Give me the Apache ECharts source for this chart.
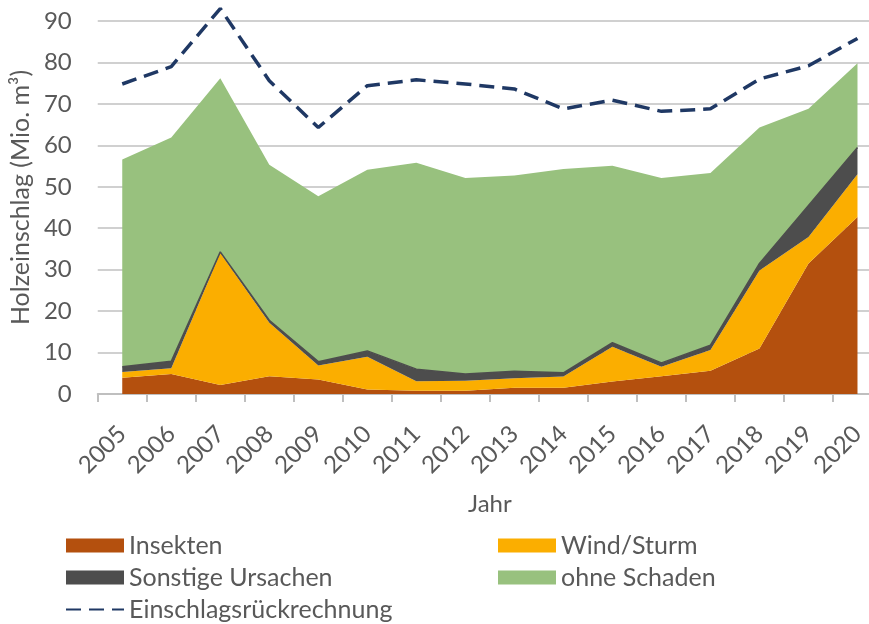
<!DOCTYPE html>
<html>
<head>
<meta charset="utf-8">
<script src="https://cdn.jsdelivr.net/npm/echarts@6/dist/echarts.min.js"></script>
<style>
html,body{margin:0;padding:0;background:#fff;overflow:hidden;width:869px;height:624px;}
#c{width:882px;height:624px;}
</style>
</head>
<body>
<div id="c"></div>
<script>
const years = ['2005','2006','2007','2008','2009','2010','2011','2012','2013','2014','2015','2016','2017','2018','2019','2020'];
const insekten = [3.9, 4.8, 2.2, 4.3, 3.5, 1.1, 0.8, 0.8, 1.5, 1.5, 3.0, 4.3, 5.6, 11.0, 31.5, 42.7];
const windSturm = [1.4, 1.4, 31.8, 12.9, 3.4, 7.9, 2.3, 2.4, 2.3, 2.7, 8.4, 2.3, 5.0, 18.8, 6.4, 10.3];
const sonstige = [1.3, 1.7, 0.3, 0.6, 0.9, 1.4, 2.9, 1.6, 1.7, 0.9, 1.0, 0.9, 1.2, 1.7, 7.6, 6.5];
const ohneSchaden = [50.0, 54.0, 41.9, 37.5, 39.9, 43.7, 49.8, 47.3, 47.2, 49.2, 42.7, 44.6, 41.5, 32.8, 23.3, 20.3];
const rueckrechnung = [74.8, 79.0, 93.0, 75.6, 64.3, 74.4, 75.8, 74.8, 73.6, 68.8, 70.9, 68.2, 68.8, 76.0, 79.2, 85.8];
const yTicks = [0, 10, 20, 30, 40, 50, 60, 70, 80, 90];

const FONT = 'Lato, "Open Sans", sans-serif';
const TXT = '#595959';
const FS = 24;
const LFS = 25;

function area(name, data, color, lineW) {
  return {
    name: name, type: 'line', stack: 'total', data: data,
    symbol: 'none', smooth: false,
    lineStyle: {width: lineW, color: color},
    areaStyle: {color: color, opacity: 1},
    itemStyle: {color: color},
    emphasis: {disabled: true}
  };
}

const chart = echarts.init(document.getElementById('c'), null, {renderer: 'canvas'});
chart.setOption({
  animation: false,
  backgroundColor: '#ffffff',
  textStyle: {fontFamily: FONT},
  grid: {left: 95, top: 21, right: 0, height: 373, containLabel: false},
  xAxis: {
    type: 'category', data: years, boundaryGap: true,
    name: 'Jahr', nameLocation: 'middle', nameGap: 98,
    nameTextStyle: {color: TXT, fontSize: FS, fontFamily: FONT},
    axisLine: {lineStyle: {color: '#BFBFBF', width: 2}},
    axisTick: {show: true, length: 8, lineStyle: {color: '#BFBFBF', width: 2}},
    axisLabel: {rotate: 45, margin: 36, color: TXT, fontSize: FS, fontFamily: FONT, interval: 0},
    splitLine: {show: false}
  },
  yAxis: {
    type: 'value', min: yTicks[0], max: yTicks[yTicks.length - 1], interval: 10,
    name: 'Holzeinschlag (Mio. m³)', nameLocation: 'middle', nameGap: 62,
    nameTextStyle: {color: TXT, fontSize: LFS, fontFamily: FONT, padding: [0, 0, 0, 20]},
    axisLine: {show: false}, axisTick: {show: false},
    axisLabel: {margin: 26, color: TXT, fontSize: FS, fontFamily: FONT},
    splitLine: {lineStyle: {color: '#D0D0D0', width: 2}}
  },
  legend: [
    {
      orient: 'vertical', left: 65, top: 533, padding: 0, itemWidth: 58, itemHeight: 14, itemGap: 7,
      textStyle: {color: TXT, fontSize: LFS, fontFamily: FONT},
      data: [
        {name: 'Insekten', icon: 'rect'},
        {name: 'Sonstige Ursachen', icon: 'rect'},
        {name: 'Einschlagsrückrechnung', itemStyle: {color: 'rgba(0,0,0,0)', opacity: 0, borderWidth: 0}}
      ]
    },
    {
      orient: 'vertical', left: 498, top: 533, padding: 0, itemWidth: 58, itemHeight: 14, itemGap: 7,
      textStyle: {color: TXT, fontSize: LFS, fontFamily: FONT},
      data: [
        {name: 'Wind/Sturm', icon: 'rect'},
        {name: 'ohne Schaden', icon: 'rect'}
      ]
    }
  ],
  series: [
    area('Insekten', insekten, '#B4500E', 0),
    area('Wind/Sturm', windSturm, '#FBAE00', 0),
    area('Sonstige Ursachen', sonstige, '#4D4D4D', 1.5),
    area('ohne Schaden', ohneSchaden, '#98C17E', 0),
    {
      name: 'Einschlagsrückrechnung', type: 'line', data: rueckrechnung,
      symbol: 'none', z: 5, clip: false,
      lineStyle: {color: '#1F3864', width: 3.5, type: [15, 8]},
      itemStyle: {color: '#1F3864'},
      emphasis: {disabled: true}
    }
  ]
});
</script>
</body>
</html>
